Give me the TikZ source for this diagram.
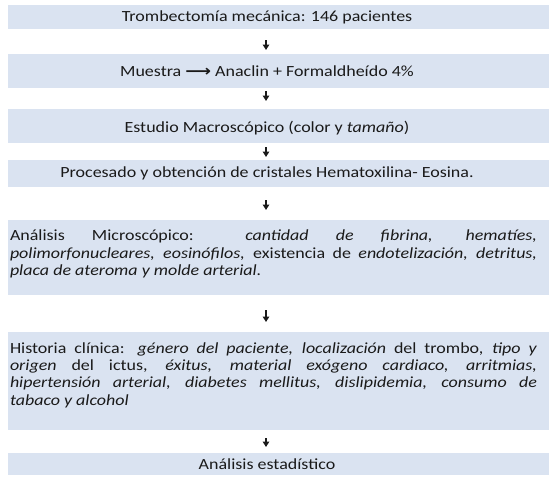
\documentclass[tikz,border=0pt]{standalone}
\usepackage{fontspec}
\setmainfont{Carlito}[FakeStretch=1.16]
\newfontfamily\symfont{DejaVu Sans}[FakeStretch=1.16]
\usetikzlibrary{arrows.meta}
\definecolor{boxfill}{HTML}{DAE3F1}
\definecolor{ink}{HTML}{1A1A1A}
\tikzset{
  stepbox/.style={fill=boxfill, draw=none, anchor=north west, minimum width=541, inner sep=0pt},
  steptext/.style={text=ink, font=\fontsize{15.5}{17.4}\selectfont, inner sep=0pt},
  paratext/.style={steptext, text width=527pt, align=justify},
  arr/.style={-{Triangle[length=5.5pt,width=6.5pt]}, line width=1.7pt, ink}
}
\begin{document}
\begin{tikzpicture}[x=1pt,y=-1pt]
\useasboundingbox (0,0) rectangle (549,479);
% boxes
\node[stepbox, minimum height=24] (b1) at (8,5) {};
\node[stepbox, minimum height=34] (b2) at (8,54) {};
\node[stepbox, minimum height=34] (b3) at (8,109) {};
\node[stepbox, minimum height=27] (b4) at (8,160) {};
\node[stepbox, minimum height=75] (b5) at (8,220) {};
\node[stepbox, minimum height=98] (b6) at (8,332) {};
\node[stepbox, minimum height=22] (b7) at (8,453) {};
% texts
\node[steptext] (t1) at (267,17) {Trombectomía mecánica: 146 pacientes};
\node[steptext] (t2) at (267,71) {Muestra {\symfont\bfseries ⟶} Anaclin + Formaldheído 4\%};
\node[steptext] (t3) at (267,128) {Estudio Macroscópico (color y \textit{tamaño})};
\node[steptext] (t4) at (267,173.5) {Procesado y obtención de cristales Hematoxilina- Eosina.};
\node[paratext] (t5) at (273.5,254) {Análisis Microscópico: \textit{cantidad de fibrina, hematíes,}\linebreak
\textit{polimorfonucleares, eosinófilos,} existencia de \textit{endotelización, detritus,}\linebreak
\textit{placa de ateroma y molde arterial.}};
\node[paratext] (t6) at (273.5,375) {Historia clínica: \textit{género del paciente, localización} del trombo, \textit{tipo y}\linebreak
\textit{origen} del ictus, \textit{éxitus, material exógeno cardiaco, arritmias,}\linebreak
\textit{hipertensión arterial, diabetes mellitus, dislipidemia, consumo de}\linebreak
\textit{tabaco y alcohol}};
\node[steptext] (t7) at (267,464) {Análisis estadístico};
% arrows
\draw[arr, shorten <=11pt, shorten >=4pt] (266,0 |- b1.south) -- (266,0 |- b2.north);
\draw[arr, shorten <=3pt, shorten >=8pt] (266,0 |- b2.south) -- (266,0 |- b3.north);
\draw[arr, shorten <=4pt, shorten >=3pt] (266,0 |- b3.south) -- (266,0 |- b4.north);
\draw[arr, shorten <=13pt, shorten >=10pt] (266,0 |- b4.south) -- (266,0 |- b5.north);
\draw[arr, shorten <=15pt, shorten >=10pt] (266,0 |- b5.south) -- (266,0 |- b6.north);
\draw[arr, shorten <=8pt, shorten >=6pt] (266,0 |- b6.south) -- (266,0 |- b7.north);
\end{tikzpicture}
\end{document}
